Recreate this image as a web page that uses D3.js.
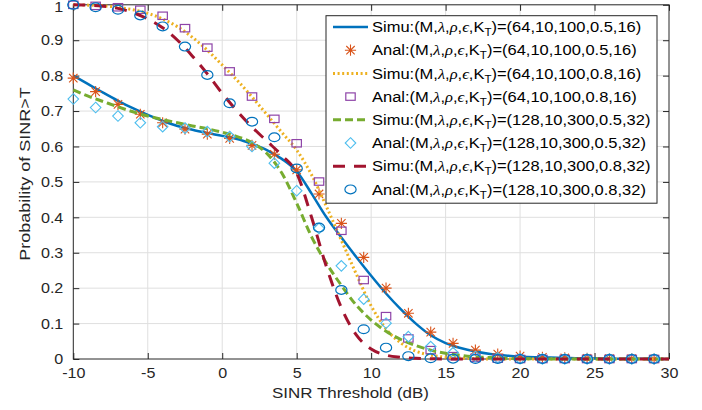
<!DOCTYPE html>
<html lang="en">
<head>
  <meta charset="UTF-8" />
  <title>Probability of SINR>T</title>
  <script src="https://cdn.jsdelivr.net/npm/d3@7"></script>
  <style>
    body { margin: 0; background: #fff; }
    svg { display: block; font-family: "Liberation Sans", Arial, sans-serif; }
    .greek { font-family: "Liberation Serif", "DejaVu Serif", serif; font-style: italic; }
  </style>
</head>
<body>
  <div id="chart"></div>
  <script>
    // x grid of the simulated curves (dB)
    const simX = [-10, -9, -8, -7, -6, -5, -4, -3, -2, -1, 0, 1, 2, 3, 4, 5, 6, 7, 8, 9, 10,
                  11, 12, 13, 14, 15, 16, 17, 18, 19, 20, 21, 22, 23, 24, 25, 26, 27, 28, 29, 30];
    // x positions of the analytical markers
    const analX = [-10, -8.5, -7, -5.5, -4, -2.5, -1, 0.5, 2, 3.5, 5, 6.5, 8, 9.5, 11, 12.5, 14,
                   15.5, 17, 18.5, 20, 21.5, 23, 24.5, 26, 27.5, 29];

    // Simu (M,λ,ρ,ϵ,K_T)=(64,10,100,0.5,16)
    const simu64a = [0.800, 0.776, 0.752, 0.729, 0.708, 0.689, 0.672, 0.658, 0.647, 0.638, 0.630,
                     0.621, 0.607, 0.590, 0.565, 0.530, 0.467, 0.400, 0.343, 0.288, 0.235,
                     0.185, 0.140, 0.100, 0.067, 0.045, 0.031, 0.021, 0.014, 0.010, 0.007,
                     0.005, 0.004, 0.003, 0.002, 0.002, 0.001, 0.001, 0.001, 0, 0];
    // Simu (64,10,100,0.8,16)
    const simu64b = [1.000, 0.999, 0.997, 0.993, 0.986, 0.976, 0.960, 0.938, 0.908, 0.872, 0.830,
                     0.787, 0.740, 0.690, 0.640, 0.590, 0.520, 0.430, 0.335, 0.240, 0.150,
                     0.085, 0.045, 0.022, 0.011, 0.005, 0.003, 0.001, 0, 0, 0,
                     0, 0, 0, 0, 0, 0, 0, 0, 0, 0];
    // Simu (128,10,300,0.5,32)
    const simu128a = [0.760, 0.742, 0.727, 0.712, 0.698, 0.686, 0.676, 0.667, 0.658, 0.650, 0.640,
                      0.628, 0.611, 0.580, 0.525, 0.440, 0.345, 0.270, 0.208, 0.152, 0.110,
                      0.078, 0.055, 0.038, 0.025, 0.016, 0.010, 0.006, 0.004, 0.002, 0.001,
                      0.001, 0, 0, 0, 0, 0, 0, 0, 0, 0];
    // Simu (128,10,300,0.8,32)
    const simu128b = [1.000, 0.999, 0.996, 0.990, 0.978, 0.960, 0.935, 0.900, 0.855, 0.805, 0.750,
                      0.700, 0.655, 0.615, 0.575, 0.525, 0.400, 0.260, 0.145, 0.068, 0.028,
                      0.011, 0.005, 0.002, 0.001, 0, 0, 0, 0, 0, 0,
                      0, 0, 0, 0, 0, 0, 0, 0, 0, 0];

    // Anal markers
    const anal64a = [0.793, 0.755, 0.719, 0.691, 0.667, 0.649, 0.635, 0.623, 0.603, 0.578, 0.534,
                     0.466, 0.383, 0.287, 0.200, 0.129, 0.076, 0.044, 0.025, 0.014, 0.008,
                     0.005, 0.003, 0.002, 0.001, 0.001, 0];
    const anal64b = [1.000, 0.997, 0.993, 0.986, 0.969, 0.934, 0.879, 0.812, 0.741, 0.678, 0.609,
                     0.501, 0.362, 0.223, 0.121, 0.058, 0.025, 0.008, 0.003, 0.001, 0,
                     0, 0, 0, 0, 0, 0];
    const anal128a = [0.734, 0.710, 0.686, 0.667, 0.656, 0.652, 0.642, 0.628, 0.600, 0.553, 0.475,
                      0.369, 0.263, 0.169, 0.101, 0.063, 0.035, 0.018, 0.007, 0.003, 0.001,
                      0, 0, 0, 0, 0, 0];
    const anal128b = [1.000, 0.993, 0.986, 0.970, 0.939, 0.882, 0.802, 0.722, 0.670, 0.626, 0.538,
                      0.371, 0.195, 0.084, 0.032, 0.008, 0.002, 0.001, 0, 0, 0,
                      0, 0, 0, 0, 0, 0];

    const xTicks = [-10, -5, 0, 5, 10, 15, 20, 25, 30];
    const yTicks = [0, 0.1, 0.2, 0.3, 0.4, 0.5, 0.6, 0.7, 0.8, 0.9, 1];

    const legendLabels = [
      ["Simu", "64,10,100,0.5,16"],
      ["Anal", "64,10,100,0.5,16"],
      ["Simu", "64,10,100,0.8,16"],
      ["Anal", "64,10,100,0.8,16"],
      ["Simu", "128,10,300,0.5,32"],
      ["Anal", "128,10,300,0.5,32"],
      ["Simu", "128,10,300,0.8,32"],
      ["Anal", "128,10,300,0.8,32"]
    ];

    const series = [
      { kind: "line", ys: simu64a, color: "#0072BD", width: 2.5, dash: null },
      { kind: "marker", ys: anal64a, color: "#D95319", shape: "star" },
      { kind: "line", ys: simu64b, color: "#EDB120", width: 3, dash: "2,2.6" },
      { kind: "marker", ys: anal64b, color: "#8E44A8", shape: "square" },
      { kind: "line", ys: simu128a, color: "#77AC30", width: 3, dash: "8,4" },
      { kind: "marker", ys: anal128a, color: "#4DBEEE", shape: "diamond" },
      { kind: "line", ys: simu128b, color: "#A2142F", width: 3, dash: "12,9" },
      { kind: "marker", ys: anal128b, color: "#0072BD", shape: "circle" }
    ];

    const W = 702, H = 410;
    const plotL = 73.3, plotR = 669, plotT = 4.8, plotB = 359;
    const txtColor = "#262626";
    const SX = 1.15;  // text in the reference is drawn a bit wide

    const svg = d3.select("#chart").append("svg")
      .attr("width", W).attr("height", H);

    const x = d3.scaleLinear().domain([-10, 30]).range([plotL, plotR]);
    const y = d3.scaleLinear().domain([0, 1]).range([plotB, plotT]);

    // grid
    const grid = svg.append("g").attr("stroke", "#dfdfdf").attr("stroke-width", 1);
    grid.selectAll(".gx").data(xTicks.slice(1, -1)).join("line")
      .attr("x1", d => x(d)).attr("x2", d => x(d)).attr("y1", plotT).attr("y2", plotB);
    grid.selectAll(".gy").data(yTicks.slice(1, -1)).join("line")
      .attr("x1", plotL).attr("x2", plotR).attr("y1", d => y(d)).attr("y2", d => y(d));

    // axes
    const fmt = d => String(d);
    const gx = svg.append("g").attr("transform", `translate(0,${plotB})`)
      .call(d3.axisBottom(x).tickValues(xTicks).tickFormat(fmt).tickSize(-6).tickSizeOuter(0).tickPadding(9));
    const gy = svg.append("g").attr("transform", `translate(${plotL},0)`)
      .call(d3.axisLeft(y).tickValues(yTicks).tickFormat(fmt).tickSize(-6).tickSizeOuter(0).tickPadding(10));
    svg.append("g").attr("transform", `translate(0,${plotT})`)
      .call(d3.axisTop(x).tickValues(xTicks).tickFormat("").tickSize(-6).tickSizeOuter(0));
    svg.append("g").attr("transform", `translate(${plotR},0)`)
      .call(d3.axisRight(y).tickValues(yTicks).tickFormat("").tickSize(-6).tickSizeOuter(0));
    svg.selectAll(".domain").remove();
    svg.selectAll(".tick line").attr("stroke", txtColor).attr("stroke-width", 1);
    svg.selectAll(".tick text").attr("fill", txtColor).attr("font-size", 14)
      .attr("font-family", "Liberation Sans, Arial, sans-serif");
    gx.selectAll(".tick text").attr("dy", "0.68em").attr("transform", `scale(${SX},1)`);
    gy.selectAll(".tick text").attr("x", -10 / SX).attr("transform", `scale(${SX},1)`)
      .attr("dy", d => d === 1 ? "0.48em" : "0.34em");

    // plot box
    svg.append("rect").attr("x", plotL).attr("y", plotT)
      .attr("width", plotR - plotL).attr("height", plotB - plotT)
      .attr("fill", "none").attr("stroke", txtColor).attr("stroke-width", 1);

    // marker shapes
    function drawMarker(sel, shape, color) {
      if (shape === "circle") {
        sel.append("ellipse").attr("rx", 5.6).attr("ry", 4.4)
          .attr("fill", "none").attr("stroke", color).attr("stroke-width", 1.2);
      } else if (shape === "square") {
        sel.append("rect").attr("x", -4.7).attr("y", -3.7).attr("width", 9.4).attr("height", 7.4)
          .attr("fill", "none").attr("stroke", color).attr("stroke-width", 1.2);
      } else if (shape === "diamond") {
        sel.append("path").attr("d", "M0,-5.3L5.3,0L0,5.3L-5.3,0Z")
          .attr("fill", "none").attr("stroke", color).attr("stroke-width", 1.1);
      } else if (shape === "star") {
        const r = 5.6, d = 4.2;
        sel.append("path")
          .attr("d", `M${-r},0L${r},0M0,${-r}L0,${r}M${-d},${-d}L${d},${d}M${-d},${d}L${d},${-d}`)
          .attr("fill", "none").attr("stroke", color).attr("stroke-width", 1.1);
      }
    }

    const plot = svg.append("g");
    const line = d3.line().x(d => x(d[0])).y(d => y(d[1])).curve(d3.curveMonotoneX);

    series.forEach(s => {
      if (s.kind === "line") {
        plot.append("path")
          .datum(simX.map((v, i) => [v, s.ys[i]]))
          .attr("d", line)
          .attr("fill", "none")
          .attr("stroke", s.color)
          .attr("stroke-width", s.width)
          .attr("stroke-dasharray", s.dash);
      } else {
        plot.append("g").selectAll("g")
          .data(analX.map((v, i) => [v, s.ys[i]]))
          .join("g")
          .attr("transform", d => `translate(${x(d[0])},${y(d[1])})`)
          .each(function () { drawMarker(d3.select(this), s.shape, s.color); });
      }
    });

    // axis titles
    svg.append("text")
      .attr("transform", `translate(350.5,397.5) scale(1.13,1)`)
      .attr("text-anchor", "middle").attr("font-size", 15).attr("fill", txtColor)
      .text("SINR Threshold (dB)");
    svg.append("text")
      .attr("transform", `translate(29.5,174) rotate(-90) scale(1.2,1)`)
      .attr("text-anchor", "middle").attr("font-size", 15).attr("fill", txtColor)
      .text("Probability of SINR>T");

    // legend
    const lg = svg.append("g");
    lg.append("rect").attr("x", 326).attr("y", 15.7).attr("width", 331).attr("height", 187.5)
      .attr("fill", "#fff").attr("stroke", txtColor).attr("stroke-width", 1);

    series.forEach((s, i) => {
      const cy = 27 + 23.2 * i;
      const row = lg.append("g").attr("transform", `translate(0,${cy})`);
      if (s.kind === "line") {
        row.append("line").attr("x1", 333).attr("x2", 368).attr("y1", 0).attr("y2", 0)
          .attr("stroke", s.color).attr("stroke-width", s.width)
          .attr("stroke-dasharray", s.dash);
      } else {
        drawMarker(row.append("g").attr("transform", "translate(350.5,0)"), s.shape, s.color);
      }
      const t = row.append("text")
        .attr("transform", `translate(372,5.2) scale(1.1,1)`)
        .attr("font-size", 15).attr("fill", "#000");
      const [kind, vals] = legendLabels[i];
      t.append("tspan").text(kind + ":(M,");
      t.append("tspan").attr("class", "greek").text("λ");
      t.append("tspan").text(",");
      t.append("tspan").attr("class", "greek").text("ρ");
      t.append("tspan").text(",");
      t.append("tspan").attr("class", "greek").text("ϵ");
      t.append("tspan").text(",K");
      t.append("tspan").attr("font-size", 10.5).attr("dy", 4).text("T");
      t.append("tspan").attr("dy", -4).text(")=(" + vals + ")");
    });
  </script>
</body>
</html>
